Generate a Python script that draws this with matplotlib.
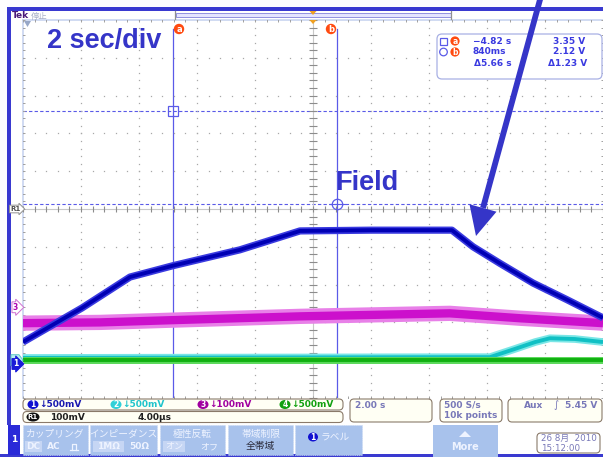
import matplotlib
matplotlib.use("Agg")
import matplotlib.pyplot as plt
from matplotlib.patches import FancyBboxPatch, Rectangle, Circle, Ellipse, Polygon
import numpy as np

plt.rcParams['font.family'] = ['DejaVu Sans', 'Noto Sans CJK JP']
JP = ['Noto Sans CJK JP', 'DejaVu Sans']
BOLD = ['Liberation Sans', 'DejaVu Sans']

# ---- acquisition settings ----
SEC_PER_DIV = 2.0
H_DIVS, V_DIVS = 10, 10

# vertical scale (V/div) and ground position (div from centre) per channel
CH1_SCALE, CH1_POS = 0.5, -4.1
CH2_SCALE, CH2_POS = 0.5, -4.0
CH3_SCALE, CH3_POS = 0.1, -2.6
CH4_SCALE, CH4_POS = 0.5, -4.0

# ---- waveforms: time (s) and amplitude (V) ----
ch1_time = [-10.0, -7.97, -6.31, -4.83, -2.52, -0.45, 2.0, 4.79, 5.52, 6.45, 7.59, 8.76, 10.0]
ch1_volt = [0.29, 0.74, 1.15, 1.30, 1.51, 1.76, 1.77, 1.77, 1.55, 1.33, 1.07, 0.85, 0.61]

ch2_time = [-10.0, 5.07, 6.10, 6.97, 7.66, 8.17, 9.03, 10.0]
ch2_volt = [0.03, 0.04, 0.04, 0.15, 0.24, 0.29, 0.28, 0.24]

ch3_time = [-10.0, -7.34, -4.83, -0.45, 4.72, 7.14, 10.0]
ch3_volt = [-0.042, -0.040, -0.034, -0.024, -0.016, -0.029, -0.042]

ch4_time = [-10.0, 0.0, 10.0]
ch4_volt = [0.0, 0.0, 0.0]

# ---- cursors ----
cursor_a_time, cursor_b_time = -4.82, 0.84
cursor_a_volt, cursor_b_volt = 3.35, 2.12

channel_labels = ["↓500mV", "↓500mV", "↓100mV", "↓500mV"]
channel_colors = ["#1818b0", "#20c4cc", "#a000a0", "#10a010"]
channel_badges = ["#1010d0", "#30d0d8", "#a000a0", "#10a010"]

FRAME = "#3a3ad0"
ANNOT = "#3535c8"
CURSOR = "#5a5ae8"
ORANGE = "#ff4a10"
PANEL_TXT = "#7878b8"

W, H = 603, 457
fig = plt.figure(figsize=(W / 100, H / 100), dpi=100)
fig.patch.set_facecolor("white")

bg = fig.add_axes([0, 0, 1, 1], zorder=0)
bg.set_xlim(0, W); bg.set_ylim(H, 0); bg.axis("off")

# graticule area in pixels
GX0, GX1, GY0, GY1 = 23, 603, 20, 398
PX_PER_DIV_Y = (GY1 - GY0) / V_DIVS
Y_CENTER = (GY0 + GY1) / 2
ax = fig.add_axes([GX0 / W, (H - GY1) / H, (GX1 - GX0) / W, (GY1 - GY0) / H], zorder=2)
ax.set_xlim(-H_DIVS / 2 * SEC_PER_DIV, H_DIVS / 2 * SEC_PER_DIV)
ax.set_ylim(-V_DIVS / 2, V_DIVS / 2)
ax.axis("off")
ax.patch.set_alpha(0)

fg = fig.add_axes([0, 0, 1, 1], zorder=3)
fg.set_xlim(0, W); fg.set_ylim(H, 0); fg.axis("off")
fg.patch.set_alpha(0)

# ---- frame ----
bg.add_patch(Rectangle((7, 7), W - 7, 4, color=FRAME, lw=0))
bg.add_patch(Rectangle((7, 7), 4, 418, color=FRAME, lw=0))
bg.add_patch(Rectangle((0, 454), W, 3, color=FRAME, lw=0))
bg.plot([GX0, GX0], [GY0, GY1], color="#c8d4f0", lw=1.2)
bg.plot([GX0, GX1], [GY0, GY0], color="#c8d4f0", lw=1.2)

# ---- graticule ----
def t_of(div):
    return div * SEC_PER_DIV

fine = np.arange(-25, 26) / 5.0
for i in range(-4, 5):
    if i == 0:
        continue
    ax.plot(np.full_like(fine, t_of(i)), fine, ls="none", marker="s", ms=0.9,
            mec="none", mfc="#a8a8a8")
    ax.plot(t_of(fine), np.full_like(fine, i), ls="none", marker="s", ms=0.9,
            mec="none", mfc="#a8a8a8")
ax.axhline(0, color="#c8c8c8", lw=0.8)
ax.axvline(0, color="#c8c8c8", lw=0.8)
ax.plot(t_of(fine), np.zeros_like(fine), ls="none", marker="|", ms=4.5, mew=0.8, color="#8c8c8c")
ax.plot(np.zeros_like(fine), fine, ls="none", marker="_", ms=5.5, mew=0.8, color="#8c8c8c")
# edge ticks
ax.plot(np.full_like(fine, -10.0), fine, ls="none", marker="_", ms=3.5, mew=0.7, color="#a0a0a0")
ax.plot(np.full_like(fine, 10.0), fine, ls="none", marker="_", ms=3.5, mew=0.7, color="#a0a0a0")
ax.plot(t_of(fine), np.full_like(fine, 5.0), ls="none", marker="|", ms=3.5, mew=0.7, color="#a0a0a0")
ax.plot(t_of(fine), np.full_like(fine, -5.0), ls="none", marker="|", ms=3.5, mew=0.7, color="#a0a0a0")

# ---- cursors ----
ya = cursor_a_volt / CH1_SCALE + CH1_POS
yb = cursor_b_volt / CH1_SCALE + CH1_POS
top_cur = 4.75
ax.plot([cursor_a_time, cursor_a_time], [-5, top_cur], color=CURSOR, lw=0.9, zorder=1)
ax.plot([cursor_b_time, cursor_b_time], [-5, top_cur], color=CURSOR, lw=0.9, zorder=1)
ax.axhline(ya, color=CURSOR, lw=0.8, ls=(0, (3, 2)), zorder=1)
ax.axhline(yb, color=CURSOR, lw=0.8, ls=(0, (3, 2)), zorder=1)
ax.plot(cursor_a_time, ya, marker="s", ms=7, mfc="none", mec=CURSOR, mew=0.9, zorder=6)
ax.plot(cursor_b_time, yb, marker="o", ms=7.5, mfc="none", mec=CURSOR, mew=0.9, zorder=6)
ax.plot([cursor_b_time - 0.25, cursor_b_time + 0.25], [yb, yb], color=CURSOR, lw=0.8, zorder=6)

# ---- traces ----
def trace(t, v, scale, pos, outer, core, w_out, w_core, z):
    y = np.asarray(v) / scale + pos
    ax.plot(t, y, color=outer, lw=w_out, solid_joinstyle="round", solid_capstyle="butt", zorder=z)
    ax.plot(t, y, color=core, lw=w_core, solid_joinstyle="round", solid_capstyle="butt", zorder=z + 0.1)

trace(ch2_time, ch2_volt, CH2_SCALE, CH2_POS, "#7ae6e6", "#10c0c4", 5.5, 2.8, 2)
trace(ch4_time, ch4_volt, CH4_SCALE, CH4_POS, "#5ad85a", "#10b010", 5.0, 2.8, 3)
trace(ch3_time, ch3_volt, CH3_SCALE, CH3_POS, "#e880e8", "#cc10cc", 11.0, 6.0, 4)
trace(ch1_time, ch1_volt, CH1_SCALE, CH1_POS, "#3a3ae0", "#0000b4", 5.2, 2.8, 5)

# ---- header ----
fg.text(12, 16, "Tek", fontsize=6.5, fontweight="bold", color="#4a1a7a", va="center", ha="left")
fg.text(31, 16, "停止", fontsize=6, color="#a8b0c8", va="center", ha="left", family=JP)
fg.add_patch(Rectangle((176, 13), 275, 3.5, fc="#e4e4ff", ec="#9090e0", lw=0.7))
fg.plot([175, 175], [11, 19], color="#909090", lw=0.9)
fg.plot([451, 451], [11, 19], color="#909090", lw=0.9)
fg.add_patch(Polygon([[309.5, 11], [316.5, 11], [313, 15]], color="#f0a020", lw=0))
fg.add_patch(Polygon([[309.5, 20], [316.5, 20], [313, 24]], color="#f0a020", lw=0))
fg.add_patch(Polygon([[24, 21], [31, 21], [27.5, 27]], color="#98a8c8", lw=0))

fg.text(47, 48, "2 sec/div", fontsize=19.5, fontweight="bold", color=ANNOT, family=BOLD,
        ha="left", va="baseline")
fg.text(335, 190, "Field", fontsize=19.5, fontweight="bold", color=ANNOT, family=BOLD,
        ha="left", va="baseline")

def badge(x, y, letter, r=5.2, fs=6):
    fg.add_patch(Circle((x, y), r, color=ORANGE, lw=0))
    fg.text(x, y + 0.3, letter, color="white", fontsize=fs, fontweight="bold", ha="center", va="center")

badge(179, 29, "a")
badge(331, 29, "b")

# ---- readout box ----
fg.add_patch(FancyBboxPatch((437, 34), 165, 45, boxstyle="round,pad=0,rounding_size=5",
                            fc="white", ec="#a8b0e4", lw=0.9))
fg.add_patch(Rectangle((440, 37.5), 7, 7, fc="none", ec=CURSOR, lw=0.9))
fg.add_patch(Circle((443.5, 52), 3.8, fc="none", ec=CURSOR, lw=0.9))
badge(455, 41, "a", r=4.6, fs=5.5)
badge(455, 52, "b", r=4.6, fs=5.5)
RO = dict(fontsize=6.5, fontweight="bold", color="#3a3ae0", ha="center", va="center")
dt = cursor_b_time - cursor_a_time
dv = cursor_a_volt - cursor_b_volt
fg.text(492, 41, f"\u2212{abs(cursor_a_time):.2f} s", **RO)
fg.text(489, 52, f"{cursor_b_time * 1000:.0f}ms", **RO)
fg.text(493, 63, f"Δ{dt:.2f} s", **RO)
fg.text(569, 41, f"{cursor_a_volt:.2f} V", **RO)
fg.text(569, 52, f"{cursor_b_volt:.2f} V", **RO)
fg.text(568, 63, f"Δ{dv:.2f} V", **RO)

# ---- annotation arrow ----
fg.plot([541, 483], [-4, 208], color=ANNOT, lw=4.2, solid_capstyle="butt")
fg.add_patch(Polygon([[469.5, 204.3], [496.5, 211.7], [476, 236]], color=ANNOT, lw=0))

# ---- left channel markers ----
def marker(y, label, fc, ec, tc, fs=5.5):
    fg.text(15.5, y, label, fontsize=fs, fontweight="bold", color=tc, ha="center", va="center",
            bbox=dict(boxstyle="rarrow,pad=0.12", fc=fc, ec=ec, lw=0.7))

def pos_px(pos):
    return Y_CENTER - pos * PX_PER_DIV_Y

marker(Y_CENTER, "R1", "white", "#909090", "#505050", fs=5)
marker(pos_px(CH3_POS), "3", "white", "#d070d0", "#b000b0")
# channel 2 / 4 marker sits just behind channel 1's
yc = pos_px(CH2_POS)
fg.add_patch(Polygon([[11, yc - 5.5], [19, yc - 5.5], [23, yc], [19, yc + 5.5], [11, yc + 5.5]],
                     fc="#b8f0f0", ec="#60c8c8", lw=0.7))
marker(pos_px(CH1_POS), "1", "#1a1ad8", "#1a1ad8", "white")

# ---- channel setting rows ----
def rbox(x, y, w, h, fc="#fffff4", ec="#8a7a6a", r=4):
    fg.add_patch(FancyBboxPatch((x, y), w, h, boxstyle=f"round,pad=0,rounding_size={r}",
                                fc=fc, ec=ec, lw=0.8))

rbox(23, 399, 320, 11)
rbox(23, 411.5, 320, 11)
for xb, lab, col, bc, num in zip([33, 116, 203, 285], channel_labels, channel_colors,
                                 channel_badges, ["1", "2", "3", "4"]):
    fg.add_patch(Ellipse((xb, 404.5), 11, 9, color=bc, lw=0))
    fg.text(xb, 404.7, num, fontsize=5.5, fontweight="bold", color="white", ha="center", va="center")
    fg.text(xb + 6.5, 404.7, lab, fontsize=6.5, fontweight="bold", color=col, ha="left", va="center")
fg.add_patch(Ellipse((33, 417), 13, 9, color="#101010", lw=0))
fg.text(33, 417.2, "R1", fontsize=5, fontweight="bold", color="white", ha="center", va="center")
fg.text(50, 417.2, "100mV", fontsize=6.5, fontweight="bold", color="#202020", ha="left", va="center")
fg.text(138, 417.2, "4.00µs", fontsize=6.5, fontweight="bold", color="#202020", ha="left", va="center")

rbox(350, 399, 82, 23)
fg.text(355, 405, "2.00 s", fontsize=6.5, fontweight="bold", color=PANEL_TXT, ha="left", va="center")
rbox(440, 399, 62, 23)
fg.text(444, 405, "500 S/s", fontsize=6.5, fontweight="bold", color=PANEL_TXT, ha="left", va="center")
fg.text(444, 415.5, "10k points", fontsize=6.5, fontweight="bold", color=PANEL_TXT, ha="left", va="center")
rbox(508, 399, 94, 23)
fg.text(524, 405, "Aux", fontsize=6.5, fontweight="bold", color=PANEL_TXT, ha="left", va="center")
fg.text(556, 405, "∫", fontsize=7, color=PANEL_TXT, ha="center", va="center")
fg.text(597, 405, "5.45 V", fontsize=6.5, fontweight="bold", color=PANEL_TXT, ha="right", va="center")

# ---- softkey menu ----
BTN = "#a8c2ec"
HIL = "#c6d6f4"
WT = "#eef3ff"
fg.add_patch(Rectangle((8, 425), 12, 30, color="#2a2ad8", lw=0))
fg.text(14, 440, "1", fontsize=6.5, fontweight="bold", color="white", ha="center", va="center")

def button(x, w, title, y_title=433.5):
    fg.add_patch(Rectangle((x, 425), w, 30, fc=BTN, ec="#c8d8f4", lw=0.6, ls=":"))
    if title:
        fg.text(x + w / 2, y_title, title, fontsize=7, color=WT, ha="center", va="center", family=JP)

button(23, 65, "カップリング")
fg.add_patch(Rectangle((25, 440.5), 17, 11.5, color=HIL, lw=0))
fg.text(33.5, 446.5, "DC", fontsize=6.5, fontweight="bold", color=WT, ha="center", va="center")
fg.text(54, 446.5, "AC", fontsize=6.5, fontweight="bold", color=WT, ha="center", va="center")
fg.plot([70, 78], [449.5, 449.5], color=WT, lw=0.9)
fg.plot([72, 72, 76, 76], [449.5, 444, 444, 449.5], color=WT, lw=0.9)

button(90, 67, "インピーダンス")
fg.add_patch(Rectangle((93, 440.5), 31, 11.5, color=HIL, lw=0))
fg.text(108.5, 446.5, "1MΩ", fontsize=6.5, fontweight="bold", color=WT, ha="center", va="center")
fg.text(139, 446.5, "50Ω", fontsize=6.5, fontweight="bold", color=WT, ha="center", va="center")

button(160, 65, "極性反転")
fg.add_patch(Rectangle((163, 440.5), 22, 11.5, color=HIL, lw=0))
fg.text(174, 446.5, "オン", fontsize=6.5, color=WT, ha="center", va="center", family=JP)
fg.text(209, 446.5, "オフ", fontsize=6.5, color=WT, ha="center", va="center", family=JP)

button(228, 65, "帯域制限")
fg.text(260.5, 446.5, "全帯域", fontsize=7, color="#2a2a3a", ha="center", va="center", family=JP)

button(295, 67, "")
fg.add_patch(Ellipse((313, 437), 10, 9, color="#1010d0", lw=0))
fg.text(313, 437.2, "1", fontsize=5.5, fontweight="bold", color="white", ha="center", va="center")
fg.text(321, 437, "ラベル", fontsize=7, color=WT, ha="left", va="center", family=JP)

fg.add_patch(Rectangle((433, 425), 65, 32, fc=BTN, lw=0))
fg.add_patch(Polygon([[459, 437], [471, 437], [465, 431]], color=WT, lw=0))
fg.text(465, 446.5, "More", fontsize=7, fontweight="bold", color=WT, ha="center", va="center")

rbox(537, 433, 63, 20, fc="white", r=4)
fg.text(541, 438.5, "26 8月  2010", fontsize=6.3, color=PANEL_TXT, ha="left", va="center",
        family=['DejaVu Sans', 'Noto Sans CJK JP'])
fg.text(541, 448.5, "15:12:00", fontsize=6.3, color=PANEL_TXT, ha="left", va="center")

fig.savefig("out.png", dpi=100, facecolor="white")
